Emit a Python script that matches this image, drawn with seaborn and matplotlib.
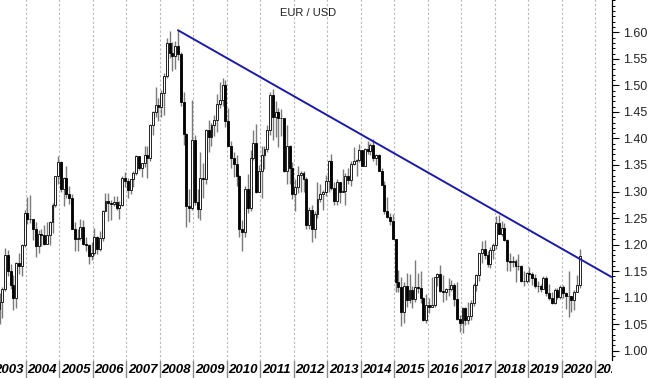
import numpy as np
import pandas as pd
import matplotlib
matplotlib.use("Agg")
import matplotlib.pyplot as plt
from matplotlib.ticker import MultipleLocator, FixedLocator, FormatStrFormatter
import seaborn as sns

# monthly EUR/USD candles, Feb 2003 .. Jul 2020 (open = previous month close)
first_open = 1.0734
close = [
    1.0790, 1.0910, 1.1170, 1.1800, 1.1500, 1.1245, 1.0985, 1.1650, 1.1590, 1.1995, 1.2595,  # 2003
    1.2480, 1.2480, 1.2300, 1.1970, 1.2200, 1.2180, 1.2020, 1.2180, 1.2420, 1.2750, 1.3290, 1.3550,  # 2004
    1.3040, 1.3260, 1.2960, 1.2870, 1.2300, 1.2100, 1.2130, 1.2340, 1.2020, 1.1990, 1.1790, 1.1840,  # 2005
    1.2150, 1.1920, 1.2120, 1.2630, 1.2820, 1.2790, 1.2760, 1.2810, 1.2680, 1.2750, 1.3250, 1.3200,  # 2006
    1.3020, 1.3230, 1.3350, 1.3660, 1.3450, 1.3530, 1.3690, 1.3640, 1.4260, 1.4490, 1.4630, 1.4590,  # 2007
    1.4850, 1.5180, 1.5790, 1.5610, 1.5550, 1.5750, 1.5600, 1.4680, 1.4080, 1.2730, 1.2690, 1.3970,  # 2008
    1.2800, 1.2670, 1.3250, 1.3230, 1.4160, 1.4030, 1.4250, 1.4340, 1.4640, 1.4720, 1.5000, 1.4320,  # 2009
    1.3860, 1.3630, 1.3510, 1.3300, 1.2290, 1.2230, 1.3050, 1.2690, 1.3630, 1.3920, 1.3000, 1.3380,  # 2010
    1.3690, 1.3800, 1.4160, 1.4810, 1.4400, 1.4500, 1.4390, 1.4380, 1.3390, 1.3860, 1.3450, 1.2960,  # 2011
    1.3080, 1.3320, 1.3340, 1.3240, 1.2370, 1.2660, 1.2300, 1.2580, 1.2860, 1.2960, 1.2990, 1.3190,  # 2012
    1.3580, 1.3060, 1.2820, 1.3170, 1.2990, 1.3010, 1.3300, 1.3220, 1.3520, 1.3580, 1.3590, 1.3790,  # 2013
    1.3490, 1.3800, 1.3770, 1.3870, 1.3640, 1.3690, 1.3390, 1.3130, 1.2630, 1.2520, 1.2450, 1.2100,  # 2014
    1.1290, 1.1200, 1.0730, 1.1220, 1.0960, 1.1150, 1.0980, 1.1210, 1.1180, 1.1000, 1.0570, 1.0860,  # 2015
    1.0830, 1.0870, 1.1380, 1.1450, 1.1130, 1.1100, 1.1170, 1.1160, 1.1240, 1.0980, 1.0590, 1.0520,  # 2016
    1.0800, 1.0580, 1.0650, 1.0900, 1.1240, 1.1420, 1.1840, 1.1910, 1.1810, 1.1640, 1.1900, 1.2000,  # 2017
    1.2410, 1.2190, 1.2320, 1.2080, 1.1690, 1.1680, 1.1690, 1.1600, 1.1600, 1.1310, 1.1320, 1.1460,  # 2018
    1.1450, 1.1370, 1.1220, 1.1220, 1.1170, 1.1370, 1.1080, 1.0990, 1.0900, 1.1150, 1.1020, 1.1210,  # 2019
    1.1090, 1.1030, 1.1030, 1.0950, 1.1100, 1.1230, 1.1780,  # 2020
]
high = [
    1.0934, 1.1080, 1.1200, 1.1935, 1.1890, 1.1630, 1.1420, 1.1680, 1.1845, 1.2010, 1.2645,  # 2003
    1.2900, 1.2930, 1.2490, 1.2420, 1.2280, 1.2290, 1.2370, 1.2430, 1.2440, 1.2780, 1.3300, 1.3667,  # 2004
    1.3580, 1.3270, 1.3480, 1.3100, 1.2950, 1.2420, 1.2300, 1.2480, 1.2470, 1.2150, 1.2010, 1.2040,  # 2005
    1.2320, 1.2170, 1.2250, 1.2650, 1.2980, 1.2980, 1.2840, 1.2920, 1.2920, 1.2830, 1.3290, 1.3370,  # 2006
    1.3260, 1.3240, 1.3380, 1.3680, 1.3630, 1.3530, 1.3850, 1.3850, 1.4280, 1.4520, 1.4970, 1.4760,  # 2007
    1.4910, 1.5240, 1.5900, 1.6020, 1.5820, 1.5830, 1.6038, 1.5620, 1.4870, 1.4100, 1.3040, 1.4720,  # 2008
    1.4060, 1.3050, 1.3740, 1.3530, 1.4170, 1.4340, 1.4300, 1.4450, 1.4840, 1.5060, 1.5140, 1.5100,  # 2009
    1.4580, 1.3960, 1.3740, 1.3690, 1.3320, 1.2470, 1.3110, 1.3330, 1.3790, 1.4160, 1.4280, 1.3500,  # 2010
    1.3860, 1.3860, 1.4250, 1.4880, 1.4940, 1.4700, 1.4580, 1.4550, 1.4360, 1.4250, 1.3880, 1.3550,  # 2011
    1.3240, 1.3490, 1.3390, 1.3380, 1.3280, 1.2700, 1.2750, 1.2640, 1.3170, 1.3140, 1.3030, 1.3310,  # 2012
    1.3590, 1.3710, 1.3170, 1.3240, 1.3110, 1.3420, 1.3340, 1.3450, 1.3570, 1.3830, 1.3620, 1.3900,  # 2013
    1.3740, 1.3820, 1.3960, 1.3910, 1.3993, 1.3700, 1.3700, 1.3440, 1.3200, 1.2890, 1.2600, 1.2570,  # 2014
    1.2110, 1.1530, 1.1390, 1.1290, 1.1470, 1.1440, 1.1220, 1.1710, 1.1460, 1.1500, 1.1010, 1.1060,  # 2015
    1.1000, 1.1380, 1.1380, 1.1460, 1.1620, 1.1430, 1.1190, 1.1370, 1.1330, 1.1280, 1.1300, 1.0680,  # 2016
    1.0830, 1.0830, 1.0910, 1.0950, 1.1270, 1.1450, 1.1850, 1.2070, 1.2090, 1.1880, 1.1960, 1.2030,  # 2017
    1.2540, 1.2555, 1.2450, 1.2410, 1.2100, 1.1850, 1.1790, 1.1730, 1.1820, 1.1620, 1.1500, 1.1490,  # 2018
    1.1570, 1.1490, 1.1450, 1.1320, 1.1260, 1.1410, 1.1410, 1.1250, 1.1110, 1.1180, 1.1180, 1.1240,  # 2019
    1.1240, 1.1100, 1.1500, 1.0990, 1.1140, 1.1420, 1.1910,  # 2020
]
low = [
    1.0690, 1.0500, 1.0620, 1.1120, 1.1400, 1.1170, 1.0760, 1.0810, 1.1450, 1.1400, 1.1960,  # 2003
    1.2390, 1.2400, 1.2080, 1.1760, 1.1850, 1.1980, 1.2000, 1.2060, 1.2000, 1.2220, 1.2700, 1.3150,  # 2004
    1.2990, 1.2730, 1.2880, 1.2760, 1.2290, 1.1870, 1.1870, 1.2080, 1.1990, 1.1870, 1.1640, 1.1710,  # 2005
    1.1800, 1.1830, 1.1870, 1.2060, 1.2630, 1.2450, 1.2460, 1.2730, 1.2650, 1.2480, 1.2730, 1.3080,  # 2006
    1.2870, 1.2950, 1.3080, 1.3310, 1.3410, 1.3270, 1.3470, 1.3260, 1.3580, 1.4070, 1.4410, 1.4330,  # 2007
    1.4400, 1.4440, 1.5130, 1.5510, 1.5280, 1.5300, 1.5480, 1.4620, 1.3880, 1.2330, 1.2420, 1.2650,  # 2008
    1.2740, 1.2510, 1.2460, 1.2880, 1.3140, 1.3750, 1.3850, 1.4040, 1.4130, 1.4580, 1.4620, 1.4220,  # 2009
    1.3860, 1.3440, 1.3270, 1.3110, 1.2140, 1.1880, 1.2150, 1.2590, 1.2640, 1.3600, 1.2970, 1.3070,  # 2010
    1.2870, 1.3430, 1.3740, 1.4070, 1.3970, 1.4020, 1.3840, 1.4040, 1.3360, 1.3140, 1.3150, 1.2860,  # 2011
    1.2630, 1.2970, 1.3000, 1.3000, 1.2300, 1.2290, 1.2040, 1.2130, 1.2510, 1.2800, 1.2660, 1.2920,  # 2012
    1.3000, 1.3030, 1.2740, 1.2750, 1.2790, 1.2990, 1.2750, 1.3150, 1.3100, 1.3500, 1.3300, 1.3550,  # 2013
    1.3480, 1.3480, 1.3700, 1.3680, 1.3580, 1.3500, 1.3380, 1.3150, 1.2570, 1.2500, 1.2360, 1.2100,  # 2014
    1.1100, 1.1100, 1.0460, 1.0520, 1.0820, 1.0890, 1.0810, 1.0920, 1.1090, 1.0900, 1.0560, 1.0520,  # 2015
    1.0710, 1.0840, 1.0820, 1.1220, 1.1100, 1.0910, 1.0950, 1.1040, 1.1120, 1.0850, 1.0570, 1.0350,  # 2016
    1.0340, 1.0490, 1.0500, 1.0570, 1.0840, 1.1120, 1.1310, 1.1660, 1.1720, 1.1570, 1.1550, 1.1720,  # 2017
    1.1920, 1.2190, 1.2160, 1.2070, 1.1510, 1.1510, 1.1570, 1.1300, 1.1530, 1.1300, 1.1220, 1.1270,  # 2018
    1.1290, 1.1240, 1.1180, 1.1110, 1.1110, 1.1180, 1.1030, 1.0960, 1.0880, 1.0880, 1.0980, 1.0980,  # 2019
    1.0990, 1.0780, 1.0640, 1.0730, 1.0760, 1.1170, 1.1190,  # 2020
]

# resistance line drawn from the 2008 top to the right edge
trend_year = [2008.54, 2021.49]
trend_rate = [1.6040, 1.1390]

year_ticks = list(range(2003, 2022))
year_labels = [str(y) for y in range(2003, 2021)] + ["20."]

df = pd.DataFrame({"close": close, "high": high, "low": low})
df["month"] = pd.date_range("2003-02-01", periods=len(df), freq="MS")
df["open"] = df["close"].shift(1).fillna(first_open)
df["x"] = df["month"].dt.year + (df["month"].dt.month - 0.5) / 12
df["up"] = df["close"] >= df["open"]

sns.set_style("white")
plt.rcParams["font.family"] = ["Liberation Sans", "DejaVu Sans"]

fig = plt.figure(figsize=(6.5, 3.78), dpi=100)
ax = fig.add_axes([0, 18 / 378, 612 / 650, 360 / 378])
band = fig.add_axes([0, 0, 612 / 650, 18 / 378])

xmin, xmax = 2003.223, 2021.508

# year separators
ax.vlines(year_ticks, 0.9, 1.7, color="#b8b8b8", lw=0.8, linestyles=(0, (2, 2)), zorder=0)

# candles
ax.vlines(df["x"], df["low"], df["high"], color="#7a7a7a", lw=1.0, zorder=2)
body_lo = df[["open", "close"]].min(axis=1)
body_hi = df[["open", "close"]].max(axis=1)
ax.bar(df["x"], body_hi - body_lo, bottom=body_lo, width=0.058,
       color=np.where(df["up"], "white", "black"), edgecolor="black", linewidth=0.6, zorder=3)

sns.lineplot(x=trend_year, y=trend_rate, color="#1c1ca3", lw=1.4, ax=ax, zorder=4)

ax.set_xlim(xmin, xmax)
ax.set_ylim(0.9825, 1.6609)
ax.set_xticks([])
for s in ["left", "top", "bottom"]:
    ax.spines[s].set_visible(False)
ax.spines["right"].set_color("black")
ax.spines["right"].set_linewidth(0.9)
ax.yaxis.tick_right()
ax.yaxis.set_major_locator(FixedLocator(np.arange(1.00, 1.601, 0.05)))
ax.yaxis.set_major_formatter(FormatStrFormatter("%.2f"))
ax.yaxis.set_minor_locator(MultipleLocator(0.01))
ax.tick_params(axis="y", which="major", length=5, width=0.8, color="black",
               labelsize=9, labelcolor="#222222", pad=3, right=True, left=False)
ax.tick_params(axis="y", which="minor", length=2.5, width=0.7, color="black", right=True, left=False)
ax.set_xlabel("")
ax.set_ylabel("")

# year band at the bottom
band.set_xlim(xmin, xmax)
band.set_ylim(0, 1)
band.axis("off")
band.vlines(year_ticks, 0, 1, color="#8a8a8a", lw=1.0)
for y, lab in zip(year_ticks, year_labels):
    band.text(y + 0.045, 0.42, lab, ha="left", va="center", fontsize=9.5,
              fontweight="bold", fontstyle="italic", color="black", clip_on=True)

fig.text(308 / 650, 1 - 12.5 / 378, "EUR / USD", ha="center", va="center",
         fontsize=8, color="#222222")

fig.savefig("out.png", dpi=100)
